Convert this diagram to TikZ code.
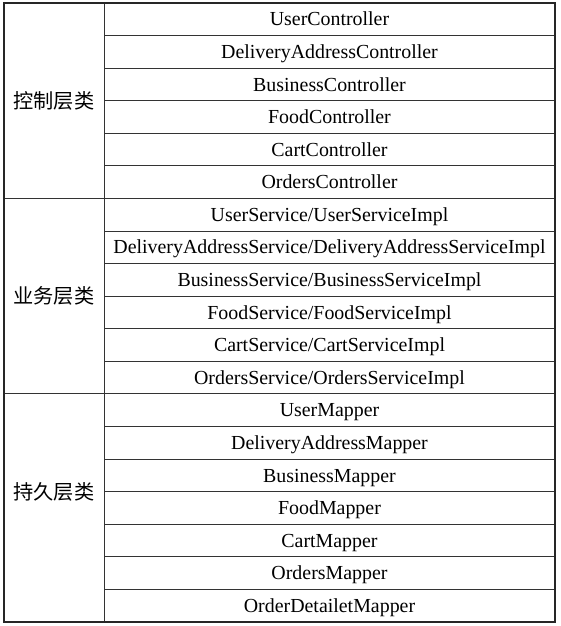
\documentclass[tikz,border=0pt]{standalone}
\usepackage{fontspec}
\setmainfont{Liberation Serif}
\newfontfamily\cjk{Noto Sans CJK SC}
\begin{document}
\begin{tikzpicture}[x=1pt,y=-1pt,
  cell/.style={font=\fontsize{19.9}{21}\selectfont, inner sep=0pt, anchor=base},
  grp/.style={font=\cjk\fontsize{20.2}{22}\selectfont, inner sep=0pt},
  outer/.style={draw=black!85, line width=1.4pt},
  inner/.style={draw=black!80, line width=1pt}]
\useasboundingbox (0,0) rectangle (560,626);
\def\rh{32.58}
\coordinate (tl) at (4,3);
\coordinate (br) at (555,622);
\coordinate (dt) at (104,3);
\coordinate (db) at (104,622);
\foreach \t [count=\i] in {UserController,DeliveryAddressController,BusinessController,FoodController,CartController,OrdersController,UserService/UserServiceImpl,DeliveryAddressService/DeliveryAddressServiceImpl,BusinessService/BusinessServiceImpl,FoodService/FoodServiceImpl,CartService/CartServiceImpl,OrdersService/OrdersServiceImpl,UserMapper,DeliveryAddressMapper,BusinessMapper,FoodMapper,CartMapper,OrdersMapper,OrderDetailetMapper}
  \node[cell] (r\i) at (329.5, {3+\rh*(\i-0.5)+6.6}) {\t};
\foreach \i in {1,...,18} {
  \ifnum\i=6 \coordinate (a\i) at (4,{3+\rh*\i});
  \else\ifnum\i=12 \coordinate (a\i) at (4,{3+\rh*\i});
  \else \coordinate (a\i) at (104,{3+\rh*\i}); \fi\fi
  \coordinate (b\i) at (555,{3+\rh*\i});
  \draw[inner] (a\i) -- (b\i);
}
\draw[inner] (dt) -- (db);
\draw[outer] (tl) rectangle (br);
\node[grp] (g1) at (54,{3+\rh*3}) {控制层类};
\node[grp] (g2) at (54,{3+\rh*9}) {业务层类};
\node[grp] (g3) at (54,{3+\rh*15}) {持久层类};
\end{tikzpicture}
\end{document}
